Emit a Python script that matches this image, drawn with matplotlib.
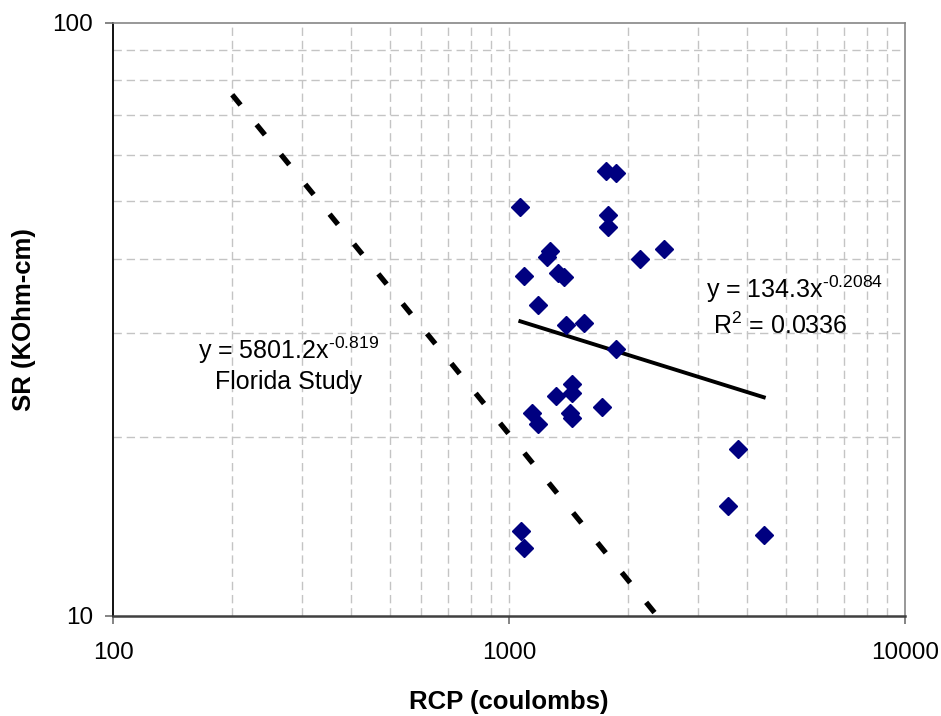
import matplotlib

matplotlib.use("Agg")
import matplotlib.pyplot as plt
import numpy as np
from matplotlib.ticker import FixedLocator, NullFormatter, NullLocator

plt.rcParams["font.family"] = ["Liberation Sans", "DejaVu Sans"]
plt.rcParams["mathtext.fontset"] = "custom"
plt.rcParams["mathtext.rm"] = "Liberation Sans"
plt.rcParams["mathtext.it"] = "Liberation Sans"
plt.rcParams["mathtext.default"] = "regular"

# measured points (RCP in coulombs, SR in KOhm-cm)
rcp = [1754, 1863, 1068, 1781, 1781, 1269, 1245, 2142, 2459, 1093,
       1327, 1379, 1186, 1393, 1547, 1866, 1445, 1445, 1317, 1145,
       1186, 1426, 1445, 1720, 3780, 3567, 4398, 1072, 1091]
sr = [56.3, 55.8, 48.9, 47.5, 45.2, 41.3, 40.3, 40.0, 41.5, 37.5,
      37.9, 37.3, 33.4, 30.9, 31.2, 28.2, 24.6, 23.8, 23.5, 22.0,
      21.1, 22.0, 21.6, 22.5, 19.1, 15.3, 13.7, 13.9, 13.0]

# power trend lines as printed on the chart: y = a * x^b
trend_a, trend_b = 134.3, -0.2084
florida_a, florida_b = 5801.2, -0.819
florida_range = [200, 2400]

x_ticks = [100, 1000, 10000]
y_ticks = [10, 100]


def main() -> None:
    figure = plt.figure(figsize=(9.41, 7.16), dpi=100)
    axis = figure.add_axes([0.1201, 0.1397, 0.8417, 0.8282])

    axis.set_xscale("log")
    axis.set_yscale("log")
    axis.set_xlim(100, 10000)
    axis.set_ylim(10, 100)

    grid_x = [m * d for d in (100, 1000) for m in range(2, 10)] + [1000]
    grid_y = [m * 10 for m in range(2, 10)]
    for gx in grid_x:
        axis.axvline(gx, color="#c4c4c4", linewidth=1, dashes=(6, 3.5), zorder=0)
    for gy in grid_y:
        axis.axhline(gy, color="#c4c4c4", linewidth=1, dashes=(6, 3.5), zorder=0)

    # Florida study line
    fx = np.geomspace(florida_range[0], florida_range[1], 50)
    axis.plot(fx, florida_a * fx ** florida_b, color="black",
              linewidth=3.8, dashes=(2.5, 4.8), zorder=2)

    # fitted power trend over the data range
    tx = np.geomspace(min(rcp), max(rcp), 50)
    axis.plot(tx, trend_a * tx ** trend_b, color="black",
              linewidth=2.8, zorder=3)

    axis.plot(rcp, sr, linestyle="none", marker="D", markersize=9,
              color="#000080", zorder=4)

    axis.text(5272, 35.5, r"y = 134.3x$^{\text{-0.2084}}$", fontsize=18,
              ha="center", va="center")
    axis.text(4831, 30.8, r"R$^{2}$ = 0.0336", fontsize=18,
              ha="center", va="center")
    axis.text(276.7, 28.1, r"y = 5801.2x$^{\text{-0.819}}$", fontsize=18,
              ha="center", va="center")
    axis.text(276.7, 24.8, "Florida Study", fontsize=18,
              ha="center", va="center")

    axis.xaxis.set_major_locator(FixedLocator(x_ticks))
    axis.yaxis.set_major_locator(FixedLocator(y_ticks))
    axis.xaxis.set_minor_locator(NullLocator())
    axis.yaxis.set_minor_locator(NullLocator())
    axis.xaxis.set_minor_formatter(NullFormatter())
    axis.yaxis.set_minor_formatter(NullFormatter())
    axis.set_xticklabels([str(t) for t in x_ticks])
    axis.set_yticklabels([str(t) for t in y_ticks])
    axis.tick_params(labelsize=17.5, length=5.8, width=1.2, direction="out",
                     colors="#707070", labelcolor="black")
    axis.tick_params(axis="x", pad=13)
    axis.tick_params(axis="y", pad=8.5)

    for side in ("top", "right"):
        axis.spines[side].set_color("#868686")
        axis.spines[side].set_linewidth(1.2)
    axis.spines["left"].set_color("#101010")
    axis.spines["left"].set_linewidth(1.4)
    axis.spines["bottom"].set_color("#404040")
    axis.spines["bottom"].set_linewidth(1.8)

    axis.set_xlabel("RCP (coulombs)", fontsize=18.5, fontweight="bold",
                    labelpad=19)
    axis.set_ylabel("SR (KOhm-cm)", fontsize=18.5, fontweight="bold",
                    labelpad=11.5)

    figure.savefig("out.png", dpi=100)


if __name__ == "__main__":
    main()
